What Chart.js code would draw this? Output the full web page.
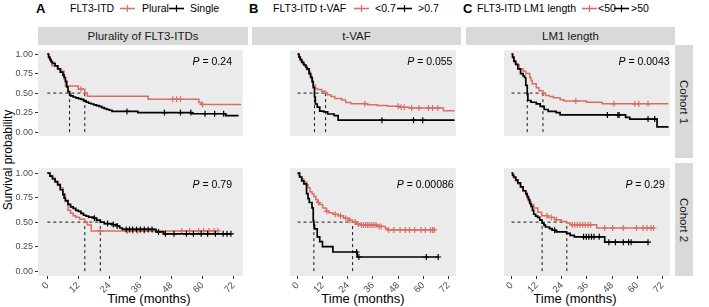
<!DOCTYPE html>
<html>
<head>
<meta charset="utf-8">
<script src="https://cdn.jsdelivr.net/npm/chart.js@4.4.1/dist/chart.umd.min.js"></script>
<style>
  body { margin: 0; background: #fff; font-family: 'Liberation Sans', Arial, sans-serif; }
  #fig { position: relative; width: 709px; height: 307px; overflow: hidden; }
  #fig canvas { position: absolute; }
  .txt { position: absolute; white-space: nowrap; color: #000; }
  .leg { top: 2px; font-size: 10.5px; line-height: 13px; }
  .letter { top: 1px; font-size: 13px; font-weight: bold; line-height: 15px; }
  .key { position: absolute; top: 4px; }
  .strip { position: absolute; background: #d9d9d9; color: #1a1a1a; font-size: 11.5px;
           display: flex; align-items: center; justify-content: center; white-space: nowrap; }
  .vtxt { transform: rotate(90deg); }
  .xtitle { top: 298px; font-size: 13px; transform: translate(-50%, -50%); }
  .ytitle { left: 8px; top: 160px; font-size: 12px; transform: translate(-50%, -50%) rotate(-90deg); }
</style>
</head>
<body>
<div id="fig">
  <!-- legends -->
  <div class="txt letter" style="left:36px">A</div>
  <div class="txt leg" style="left:70px">FLT3-ITD</div>
  <div class="txt leg" style="left:142px">Plural</div>
  <div class="txt leg" style="left:190px">Single</div>
  <div class="txt letter" style="left:249px">B</div>
  <div class="txt leg" style="left:273px">FLT3-ITD t-VAF</div>
  <div class="txt leg" style="left:375px">&lt;0.7</div>
  <div class="txt leg" style="left:418px">&gt;0.7</div>
  <div class="txt letter" style="left:463px">C</div>
  <div class="txt leg" style="left:477px">FLT3-ITD LM1 length</div>
  <div class="txt leg" style="left:598px">&lt;50</div>
  <div class="txt leg" style="left:631px">&gt;50</div>

  <!-- facet strips -->
  <div class="strip" style="left:38px;top:27px;width:210px;height:18px">Plurality of FLT3-ITDs</div>
  <div class="strip" style="left:252px;top:27px;width:209px;height:18px">t-VAF</div>
  <div class="strip" style="left:466px;top:27px;width:209px;height:18px">LM1 length</div>
  <div class="strip" style="left:675px;top:45px;width:18px;height:113px"><span class="vtxt">Cohort 1</span></div>
  <div class="strip" style="left:675px;top:163px;width:18px;height:113px"><span class="vtxt">Cohort 2</span></div>

  <div class="txt ytitle">Survival probability</div>
  <div class="txt xtitle" style="left:149px">Time (months)</div>
  <div class="txt xtitle" style="left:363px">Time (months)</div>
  <div class="txt xtitle" style="left:575px">Time (months)</div>
</div>

<script>
// ─── AXES ────────────────────────────────────────────────────
const xTicks = [0, 12, 24, 36, 48, 60, 72];
const yTicks = [0, 0.25, 0.5, 0.75, 1];
const pValues = ['0.24', '0.79', '0.055', '0.00086', '0.0043', '0.29'];

// ─── A: plurality of FLT3-ITDs (red = Plural, black = Single) ─
const aTopRedT   = [0, 0.5, 1.2, 1.8, 4.3, 5.5, 6.5, 7, 12, 14.5, 15.5, 39, 58.6, 59.4, 75];
const aTopRedS   = [1, 0.95, 0.91, 0.85, 0.81, 0.78, 0.68, 0.59, 0.55, 0.50, 0.46, 0.42, 0.38, 0.355, 0.355];
const aTopRedC   = [13, 48.5, 50, 51.5, 60];
const aTopBlackT = [0, 0.5, 1, 1.5, 2, 3, 4, 5, 6, 6.5, 7, 7.5, 8, 8.6, 9, 10, 11, 12, 13, 14, 15, 16, 17, 18, 19, 20, 21, 22, 23, 24, 25, 35, 56, 69, 74];
const aTopBlackS = [1, 0.96, 0.93, 0.90, 0.88, 0.85, 0.81, 0.77, 0.73, 0.70, 0.65, 0.58, 0.52, 0.48, 0.465, 0.45, 0.44, 0.43, 0.42, 0.40, 0.385, 0.37, 0.36, 0.35, 0.34, 0.33, 0.315, 0.30, 0.29, 0.28, 0.265, 0.25, 0.235, 0.21, 0.21];
const aTopBlackC = [30.8, 45.3, 51.5, 55.5, 61, 64.7, 68.2];
const aTopMed    = [14.5, 8.6];

const aBotRedT   = [0, 1, 2, 3, 4, 5, 6, 7, 8, 9, 10, 11, 12.5, 14.5, 15.5, 17, 66];
const aBotRedS   = [1, 0.97, 0.95, 0.92, 0.89, 0.85, 0.79, 0.71, 0.62, 0.59, 0.565, 0.55, 0.53, 0.50, 0.47, 0.41, 0.41];
const aBotRedC   = [20.5, 31, 33, 35, 37.5, 52, 55, 58.5, 60.5, 62.5, 64.5, 66];
const aBotBlackT = [0, 1, 2, 3, 4, 5, 6, 6.5, 7, 8, 9, 10, 11, 12, 13, 14, 15, 16, 18, 19, 20.5, 22, 25, 27, 28, 29, 42, 45, 71];
const aBotBlackS = [1, 0.97, 0.94, 0.91, 0.88, 0.83, 0.78, 0.745, 0.72, 0.68, 0.655, 0.64, 0.62, 0.61, 0.59, 0.57, 0.56, 0.55, 0.54, 0.52, 0.50, 0.485, 0.475, 0.46, 0.44, 0.425, 0.40, 0.38, 0.38];
const aBotBlackC = [18.2, 23.3, 25.5, 27, 30.5, 31.8, 33, 34.5, 36, 37.5, 39, 40.5, 43, 45.7, 49, 53.8, 56.5, 59.5, 62, 65, 68, 69.5, 71];
const aBotMed    = [14.5, 20.5];

// ─── B: t-VAF (red = <0.7, black = >0.7) ─────────────────────
const bTopRedT   = [0, 0.5, 1, 1.5, 2.5, 3.5, 4.5, 5.5, 6, 6.8, 7.5, 8.5, 9.5, 11.5, 13.4, 14.3, 15.9, 17.8, 21, 23, 25.5, 33.5, 38, 43, 49, 53, 69.7, 75];
const bTopRedS   = [1, 0.97, 0.94, 0.91, 0.87, 0.84, 0.80, 0.78, 0.72, 0.66, 0.60, 0.56, 0.545, 0.525, 0.50, 0.48, 0.455, 0.43, 0.41, 0.38, 0.365, 0.35, 0.34, 0.33, 0.317, 0.31, 0.275, 0.275];
const bTopRedC   = [32.2, 48, 49.5, 51, 54.5, 58, 62.5, 64.5, 67];
const bTopBlackT = [0, 0.7, 1.3, 2, 3, 4, 4.5, 5.5, 6.3, 7, 7.5, 8.1, 8.5, 9.4, 10.6, 12.5, 14.4, 17.5, 19.4, 75];
const bTopBlackS = [1, 0.96, 0.93, 0.895, 0.86, 0.83, 0.81, 0.75, 0.70, 0.645, 0.57, 0.45, 0.36, 0.32, 0.27, 0.26, 0.232, 0.21, 0.153, 0.153];
const bTopBlackC = [40.3, 55.4, 59.8];
const bTopMed    = [13.4, 8.1];

const bBotRedT   = [0, 0.5, 1, 2, 3, 4.3, 5, 6, 6.9, 7.8, 8.7, 9.5, 10.6, 12, 13.7, 15, 16.9, 19.4, 21.9, 24.4, 26.3, 28.1, 30, 38.2, 42, 42.8, 65.9];
const bBotRedS   = [1, 0.98, 0.96, 0.94, 0.91, 0.88, 0.85, 0.81, 0.79, 0.76, 0.73, 0.70, 0.68, 0.645, 0.61, 0.595, 0.58, 0.564, 0.54, 0.52, 0.50, 0.48, 0.47, 0.456, 0.435, 0.42, 0.42];
const bBotRedC   = [10, 14, 18, 20.5, 23, 25, 27.5, 29, 30.5, 31.5, 32.5, 33.5, 34.5, 35.5, 36.5, 37.5, 39, 40, 43.5, 46, 49, 51.5, 53.5, 56, 59, 61, 63.5, 64.5, 65.3];
const bBotBlackT = [0, 1, 2, 3, 4.3, 5, 5.6, 6.9, 7.5, 7.8, 8.1, 9.4, 10.6, 11.9, 16.9, 28.5, 67.2];
const bBotBlackS = [1, 0.96, 0.92, 0.89, 0.79, 0.74, 0.70, 0.645, 0.515, 0.47, 0.43, 0.35, 0.30, 0.25, 0.195, 0.144, 0.144];
const bBotBlackC = [28.2, 29.3, 61.5, 67.2];
const bBotMed    = [26.3, 7.8];

// ─── C: LM1 length (red = <50, black = >50) ──────────────────
const cTopRedT   = [0, 0.5, 1.3, 2, 3.7, 5.6, 6.8, 8.7, 9.3, 9.9, 11.8, 13.1, 15, 16.2, 18.1, 20, 23.2, 25, 35.8, 43.2, 75];
const cTopRedS   = [1, 0.95, 0.89, 0.86, 0.81, 0.78, 0.75, 0.70, 0.66, 0.62, 0.57, 0.53, 0.50, 0.47, 0.455, 0.44, 0.415, 0.40, 0.382, 0.363, 0.363];
const cTopRedC   = [30.7, 48.9, 58.9, 60.8, 65.2];
const cTopBlackT = [0, 0.5, 1.1, 2, 3, 4.3, 5.5, 6.2, 6.8, 7.5, 7.8, 9.3, 11.8, 13.7, 15.6, 17.5, 21.3, 23.2, 54.5, 56.5, 69.5, 75];
const cTopBlackS = [1, 0.96, 0.91, 0.87, 0.81, 0.75, 0.72, 0.70, 0.60, 0.49, 0.405, 0.383, 0.363, 0.33, 0.29, 0.265, 0.25, 0.22, 0.19, 0.167, 0.068, 0.068];
const cTopBlackC = [45.8, 50.8, 51.4, 65.2, 68.4];
const cTopMed    = [15, 7.5];

const cBotRedT   = [0, 0.5, 1, 2, 3, 4.3, 5.5, 6.8, 7.5, 8.1, 9.3, 10.6, 12.5, 14.4, 17.5, 20.6, 23.8, 26.4, 28, 40.7, 68.3];
const cBotRedS   = [1, 0.98, 0.95, 0.92, 0.89, 0.86, 0.82, 0.78, 0.74, 0.71, 0.68, 0.645, 0.60, 0.565, 0.548, 0.525, 0.505, 0.49, 0.472, 0.44, 0.44];
const cBotRedC   = [16.9, 19, 21.5, 29, 30.2, 31.5, 32.7, 34, 35.2, 36.5, 37.7, 44.5, 48.3, 53.4, 59.7, 62.8, 64.7, 66.6, 67.8];
const cBotBlackT = [0, 0.5, 1, 2, 3, 4.3, 5.5, 6.8, 7.5, 8.1, 8.7, 9.3, 10, 10.6, 11.5, 12.5, 13.5, 14.6, 15.5, 16.2, 18.1, 19.4, 21.3, 26.3, 28, 30, 44.5, 65.2];
const cBotBlackS = [1, 0.98, 0.96, 0.93, 0.90, 0.86, 0.82, 0.79, 0.76, 0.73, 0.69, 0.66, 0.62, 0.58, 0.56, 0.548, 0.52, 0.49, 0.47, 0.45, 0.433, 0.417, 0.40, 0.384, 0.365, 0.35, 0.295, 0.295];
const cBotBlackC = [20.6, 34.4, 35.7, 36.9, 38.2, 39.4, 41.9, 46.5, 49.6, 53.4, 55.9, 57.1, 65.2];
const cBotMed    = [26.4, 14.6];

// ─── STYLE / LAYOUT ──────────────────────────────────────────
const RED = '#db6d65';
const BLACK = '#000000';
const FONT = "'Liberation Sans', Arial, sans-serif";
Chart.defaults.font.family = FONT;

const cols = [{ left: 38, right: 248 }, { left: 252, right: 461 }, { left: 466, right: 675 }];
const rows = [{ top: 45, bottom: 158 }, { top: 163, bottom: 276 }];
const Y_AXIS_W = 38, X_AXIS_H = 22;
// where the P label sits inside each panel (data units)
const pPos = [[63.8, 0.895], [63.8, 0.88], [63.2, 0.895], [61, 0.88], [63.3, 0.895], [63.8, 0.88]];

const panels = [
    { col: 0, row: 0, red: [aTopRedT, aTopRedS, aTopRedC], black: [aTopBlackT, aTopBlackS, aTopBlackC], med: aTopMed },
    { col: 0, row: 1, red: [aBotRedT, aBotRedS, aBotRedC], black: [aBotBlackT, aBotBlackS, aBotBlackC], med: aBotMed },
    { col: 1, row: 0, red: [bTopRedT, bTopRedS, bTopRedC], black: [bTopBlackT, bTopBlackS, bTopBlackC], med: bTopMed },
    { col: 1, row: 1, red: [bBotRedT, bBotRedS, bBotRedC], black: [bBotBlackT, bBotBlackS, bBotBlackC], med: bBotMed },
    { col: 2, row: 0, red: [cTopRedT, cTopRedS, cTopRedC], black: [cTopBlackT, cTopBlackS, cTopBlackC], med: cTopMed },
    { col: 2, row: 1, red: [cBotRedT, cBotRedS, cBotRedC], black: [cBotBlackT, cBotBlackS, cBotBlackC], med: cBotMed },
];

// ─── HELPERS ─────────────────────────────────────────────────
const stepPts = (t, s) => t.map((v, i) => ({ x: v, y: s[i] }));

// value of the step curve at time x (for placing censor marks)
function survAt(t, s, x) {
    let v = s[0];
    for (let i = 0; i < t.length; i++) if (t[i] <= x) v = s[i];
    return v;
}

function censorPts(t, s, c) {
    return c.map(x => ({ x: x, y: survAt(t, s, x) }));
}

// horizontal dashed line at 0.5 up to the larger median, and a drop line at each median
function medianPts(meds) {
    const pts = [{ x: 0, y: 0.5 }, { x: Math.max(...meds), y: 0.5 }];
    meds.forEach(m => {
        pts.push({ x: m, y: null });
        pts.push({ x: m, y: 0 });
        pts.push({ x: m, y: 0.5 });
    });
    return pts;
}

const panelBg = {
    id: 'panelBg',
    beforeDraw(chart) {
        const { ctx, chartArea: a } = chart;
        ctx.save();
        ctx.fillStyle = '#ebebeb';
        ctx.fillRect(a.left, a.top, a.right - a.left, a.bottom - a.top);
        ctx.restore();
    }
};

const pLabel = {
    id: 'pLabel',
    afterDatasetsDraw(chart, args, o) {
        const ctx = chart.ctx;
        const x = chart.scales.x.getPixelForValue(o.x);
        const y = chart.scales.y.getPixelForValue(o.y);
        const rest = ' = ' + o.text;
        ctx.save();
        ctx.fillStyle = '#000';
        ctx.textBaseline = 'middle';
        ctx.font = 'italic 10.5px ' + FONT;
        const w1 = ctx.measureText('P').width;
        ctx.font = '10.5px ' + FONT;
        const w2 = ctx.measureText(rest).width;
        const x0 = x - (w1 + w2) / 2;
        ctx.font = 'italic 10.5px ' + FONT;
        ctx.fillText('P', x0, y);
        ctx.font = '10.5px ' + FONT;
        ctx.fillText(rest, x0 + w1, y);
        ctx.restore();
    }
};

// ─── BUILD PANELS ────────────────────────────────────────────
const fig = document.getElementById('fig');

panels.forEach((p, idx) => {
    const col = cols[p.col], row = rows[p.row];
    const showY = p.col === 0, showX = p.row === 1;
    const left = showY ? col.left - Y_AXIS_W : col.left;
    const w = col.right - left;
    const h = (row.bottom - row.top) + (showX ? X_AXIS_H : 0);

    const cv = document.createElement('canvas');
    cv.width = w; cv.height = h;
    cv.style.left = left + 'px'; cv.style.top = row.top + 'px';
    cv.style.width = w + 'px'; cv.style.height = h + 'px';
    fig.appendChild(cv);

    const [rt, rs, rc] = p.red;
    const [bt, bs, bc] = p.black;

    new Chart(cv, {
        type: 'line',
        data: {
            datasets: [
                { data: censorPts(bt, bs, bc), showLine: false, pointStyle: 'cross', pointRadius: 3,
                  pointBorderWidth: 1.2, pointBorderColor: BLACK },
                { data: stepPts(bt, bs), stepped: true, borderColor: BLACK, borderWidth: 1.7, pointRadius: 0 },
                { data: censorPts(rt, rs, rc), showLine: false, pointStyle: 'cross', pointRadius: 3,
                  pointBorderWidth: 1.2, pointBorderColor: RED },
                { data: stepPts(rt, rs), stepped: true, borderColor: RED, borderWidth: 1.5, pointRadius: 0 },
                { data: medianPts(p.med), borderColor: BLACK, borderWidth: 0.9, borderDash: [3, 3],
                  pointRadius: 0, spanGaps: false }
            ]
        },
        options: {
            responsive: false,
            animation: false,
            events: [],
            layout: { padding: 0 },
            plugins: {
                legend: { display: false },
                tooltip: { enabled: false },
                pLabel: { text: pValues[idx], x: pPos[idx][0], y: pPos[idx][1] }
            },
            scales: {
                x: {
                    type: 'linear', min: -3.6, max: 75.6, bounds: 'data', display: showX,
                    afterBuildTicks: s => { s.ticks = xTicks.map(v => ({ value: v })); },
                    afterFit: s => { s.height = X_AXIS_H; s.paddingLeft = 0; s.paddingRight = 0; },
                    grid: { drawOnChartArea: false, drawTicks: true, tickLength: 3, tickColor: '#333', tickWidth: 1 },
                    border: { display: false },
                    ticks: { autoSkip: false, minRotation: 45, maxRotation: 45, padding: 1,
                             color: '#4d4d4d', font: { size: 9.5 } }
                },
                y: {
                    type: 'linear', min: -0.05, max: 1.05, bounds: 'data', display: showY,
                    afterBuildTicks: s => { s.ticks = yTicks.map(v => ({ value: v })); },
                    afterFit: s => { s.width = Y_AXIS_W; s.paddingTop = 0; s.paddingBottom = 0; },
                    grid: { drawOnChartArea: false, drawTicks: true, tickLength: 3, tickColor: '#333', tickWidth: 1 },
                    border: { display: false },
                    ticks: { padding: 2, color: '#4d4d4d', font: { size: 9 }, callback: v => v.toFixed(2) }
                }
            }
        },
        plugins: [panelBg, pLabel]
    });
});

// ─── LEGEND KEYS (line with censor cross) ────────────────────
function key(x, color) {
    const ns = 'http://www.w3.org/2000/svg';
    const svg = document.createElementNS(ns, 'svg');
    svg.setAttribute('width', 15); svg.setAttribute('height', 9);
    svg.setAttribute('class', 'key');
    svg.style.left = x + 'px';
    [[0, 4.5, 15, 4.5, 1.6], [7.5, 1, 7.5, 8, 1.2]].forEach(([x1, y1, x2, y2, sw]) => {
        const l = document.createElementNS(ns, 'line');
        l.setAttribute('x1', x1); l.setAttribute('y1', y1);
        l.setAttribute('x2', x2); l.setAttribute('y2', y2);
        l.setAttribute('stroke', color); l.setAttribute('stroke-width', sw);
        svg.appendChild(l);
    });
    fig.appendChild(svg);
}
key(120, RED);  key(169, BLACK);
key(354, RED);  key(397, BLACK);
key(582, RED);  key(614, BLACK);
</script>
</body>
</html>
